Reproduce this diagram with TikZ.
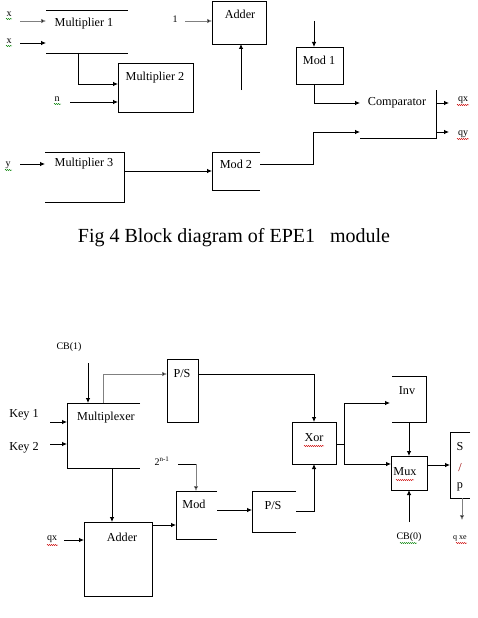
\documentclass[tikz,border=0pt]{standalone}
\usepackage{fontspec}
\setmainfont{Liberation Serif}
\usetikzlibrary{arrows.meta,decorations.pathmorphing}
\tikzset{
  blk/.style={draw=none,inner sep=0pt,outer sep=0pt},
  fullblk/.style={draw,line width=0.8pt,inner sep=0pt,outer sep=0pt},
  txt/.style={inner sep=0pt,font=\fontsize{12.2}{13}\selectfont},
  small/.style={inner sep=0pt,font=\fontsize{10}{11}\selectfont},
  edge/.style={line width=0.8pt},
  arr/.style={line width=0.8pt,-{Latex[length=5pt,width=4.5pt]}},
  garr/.style={line width=0.6pt,draw=gray,-{Latex[length=5pt,width=4.5pt,fill=black]}},
  rsq/.style={draw=red!80!black,line width=0.4pt,decorate,decoration={snake,amplitude=0.6pt,segment length=2pt}},
  gsq/.style={draw=green!50!black,line width=0.4pt,decorate,decoration={snake,amplitude=0.6pt,segment length=2pt}},
}
\begin{document}
\begin{tikzpicture}[x=1pt,y=-1pt]
\useasboundingbox (0,0) rectangle (478,618);

% ---------------- Top diagram ----------------
\node[blk,minimum width=82pt,minimum height=43pt] (m1) at (87,31.5) {};
\draw[edge] (m1.north west) -- (m1.north east);
\draw[edge] (m1.south west) -- (m1.south east);
\node[txt] (m1t) at (84,24) {Multiplier 1};

\node[fullblk,minimum width=75pt,minimum height=49pt] (m2) at (155.5,87.5) {};
\node[txt] (m2t) at (155,78) {Multiplier 2};

\node[fullblk,minimum width=54pt,minimum height=43pt] (add1) at (239,22.5) {};
\node[txt] (add1t) at (240,14) {Adder};

\node[fullblk,minimum width=47pt,minimum height=37pt] (mod1) at (319.5,65.5) {};
\node[txt] (mod1t) at (319,60) {Mod 1};

\node[blk,minimum width=76pt,minimum height=48pt] (cmp) at (398,114) {};
\draw[edge] (cmp.south west) -- (cmp.south east) -- (cmp.north east);
\node[txt] (cmpt) at (397,103) {Comparator};

\node[blk,minimum width=79pt,minimum height=50pt] (m3) at (84.5,177) {};
\draw[edge] (m3.north west) -- (m3.north east) -- (m3.south east) -- (m3.south west);
\node[txt] (m3t) at (84,164) {Multiplier 3};

\node[blk,minimum width=48pt,minimum height=38pt] (mod2) at (236,171) {};
\draw[edge] (mod2.north east) -- (mod2.north west) -- (mod2.south west) -- (mod2.south east);
\node[txt] (mod2t) at (236,164) {Mod 2};

% inputs
\node[small] (x1) at (9,14) {x};
\draw[gsq] (6,19) -- (12,19);
\coordinate (x1s) at (20,21);
\draw[garr] (x1s) -- (x1s -| m1.west);

\node[small] (x2) at (9,41) {x};
\draw[gsq] (6,46) -- (12,46);
\coordinate (x2s) at (20,43);
\draw[arr] (x2s) -- (x2s -| m1.west);

\coordinate (m1d) at (78,53);
\draw[arr] (m1d) |- (m2.west |- 0,84);

\node[small] (nl) at (57,99) {n};
\draw[gsq] (54,104) -- (61,104);
\coordinate (ns) at (70,102);
\draw[arr] (ns) -- (ns -| m2.west);

\node[small] (one) at (175,19) {1};
\coordinate (ones) at (185,21);
\draw[garr] (ones) -- (ones -| add1.west);

\coordinate (adds) at (241,90);
\draw[arr] (adds) -- (adds |- add1.south);

\coordinate (mod1s) at (314,21);
\draw[arr] (mod1s) -- (mod1s |- mod1.north);

\draw[arr] (mod1.south -| mod1s) |- (cmp.west |- 0,103);

\node[small] (yl) at (8,165) {y};
\draw[gsq] (5,170) -- (12,170);
\coordinate (ys) at (20,164);
\draw[arr] (ys) -- (ys -| m3.west);

\draw[arr] (m3.east |- 0,171) -- (mod2.west |- 0,171);
\draw[arr] (mod2.east |- 0,164) -| (313,132) -- (cmp.west |- 0,132);

\coordinate (qxe) at (449,103);
\coordinate (qye) at (449,132);
\draw[arr] (cmp.east |- qxe) -- (qxe);
\draw[arr] (cmp.east |- qye) -- (qye);
\node[small] (qx) at (463,100) {qx};
\node[small] (qy) at (463,134) {qy};
\draw[rsq] (457,105) -- (469,105);
\draw[rsq] (457,139) -- (469,139);

\node[inner sep=0pt,font=\fontsize{20}{23}\selectfont] (cap) at (234,238) {Fig 4 Block diagram of EPE1\ \ \ module};

% ---------------- Bottom diagram ----------------
\node[blk,minimum width=73pt,minimum height=65pt] (mux) at (103.5,435.5) {};
\draw[edge] (mux.north east) -- (mux.north west) -- (mux.south west) -- (mux.south east);
\node[txt] (muxt) at (106,418) {Multiplexer};

\node[fullblk,minimum width=31pt,minimum height=63pt] (ps1) at (182.5,390.5) {};
\node[txt] (ps1t) at (182,374) {P/S};

\node[blk,minimum width=41pt,minimum height=48pt] (mod) at (196.5,515) {};
\draw[edge] (mod.north east) -- (mod.north west) -- (mod.south west) -- (mod.south east);
\node[txt] (modt) at (194,504) {Mod};

\node[fullblk,minimum width=68pt,minimum height=74pt] (add2) at (118,559) {};
\node[txt] (add2t) at (122,537) {Adder};

\node[blk,minimum width=44pt,minimum height=41pt] (ps2) at (274,511.5) {};
\draw[edge] (ps2.north east) -- (ps2.north west) -- (ps2.south west) -- (ps2.south east);
\node[txt] (ps2t) at (273,506) {P/S};

\node[fullblk,minimum width=44pt,minimum height=42pt] (xor) at (314,443) {};
\node[txt] (xort) at (314,438) {Xor};
\draw[rsq] (304,446) -- (324,446);

\node[blk,minimum width=34pt,minimum height=46pt] (inv) at (409,399) {};
\draw[edge] (inv.north west) -- (inv.north east) -- (inv.south east) -- (inv.south west);
\node[txt] (invt) at (407,391) {Inv};

\node[fullblk,minimum width=36pt,minimum height=34pt] (mux2) at (409,473) {};
\node[txt] (mux2t) at (405,472) {Mux};
\draw[rsq] (396,480) -- (414,480);

\node[blk,minimum width=20pt,minimum height=66pt] (sp) at (460,465) {};
\draw[edge] (sp.north east) -- (sp.north west) -- (sp.south west) -- (sp.south east);
\node[txt] (spS) at (460,447) {S};
\node[txt,text=red!60!black] (spsl) at (460,468) {/};
\node[txt] (spp) at (460,487) {p};

% labels and connectors
\node[small] (cb1) at (69,347) {CB(1)};
\coordinate (cb1s) at (88,363);
\draw[arr] (cb1s) -- (cb1s |- mux.north);

\draw[garr] (mux.north -| 103,0) |- (ps1.west |- 0,374);
\draw[arr] (ps1.east |- 0,374) -| (xor.north);

\node[txt] (k1) at (24,415) {Key 1};
\coordinate (k1s) at (50,422);
\draw[arr] (k1s) -- (k1s -| mux.west);
\node[txt] (k2) at (24,448) {Key 2};
\coordinate (k2s) at (50,444);
\draw[arr] (k2s) -- (k2s -| mux.west);

\node[small] (two) at (162,461) {2\textsuperscript{n-1}};
\coordinate (twos) at (178,464);
\draw[edge] (twos) -- (196,464);
\draw[garr] (196,464) -- (mod.north -| 196,0);

\draw[arr] (mux.south -| 112,0) -- (add2.north -| 112,0);

\node[small] (qxb) at (52,539) {qx};
\draw[rsq] (47,545) -- (58,545);
\coordinate (qxs) at (64,540);
\draw[arr] (qxs) -- (qxs -| add2.west);

\draw[arr] (add2.east |- 0,525) -- (mod.west |- 0,525);
\draw[arr] (mod.east |- 0,510) -- (ps2.west |- 0,510);
\draw[arr] (ps2.east |- 0,511) -| (xor.south);

\coordinate (xb) at (344,444);
\draw[edge] (xor.east |- xb) -- (xb);
\draw[arr] (xb) |- (390,403);
\draw[arr] (xb) |- (mux2.west |- 0,464);
\draw[arr] (inv.south) -- (mux2.north);
\draw[arr] (mux2.east |- 0,465) -- (sp.west |- 0,465);

\coordinate (spe) at (462,520);
\draw[garr] (sp.south -| spe) -- (spe);
\node[inner sep=0pt,font=\fontsize{8}{9}\selectfont] (qxe2) at (460,538) {q xe};
\draw[rsq] (456,543) -- (467,543);

\node[small] (cb0) at (409,537) {CB(0)};
\draw[gsq] (400,543) -- (417,543);
\coordinate (cb0s) at (409,522);
\draw[arr] (cb0s) -- (mux2.south);
\end{tikzpicture}
\end{document}
